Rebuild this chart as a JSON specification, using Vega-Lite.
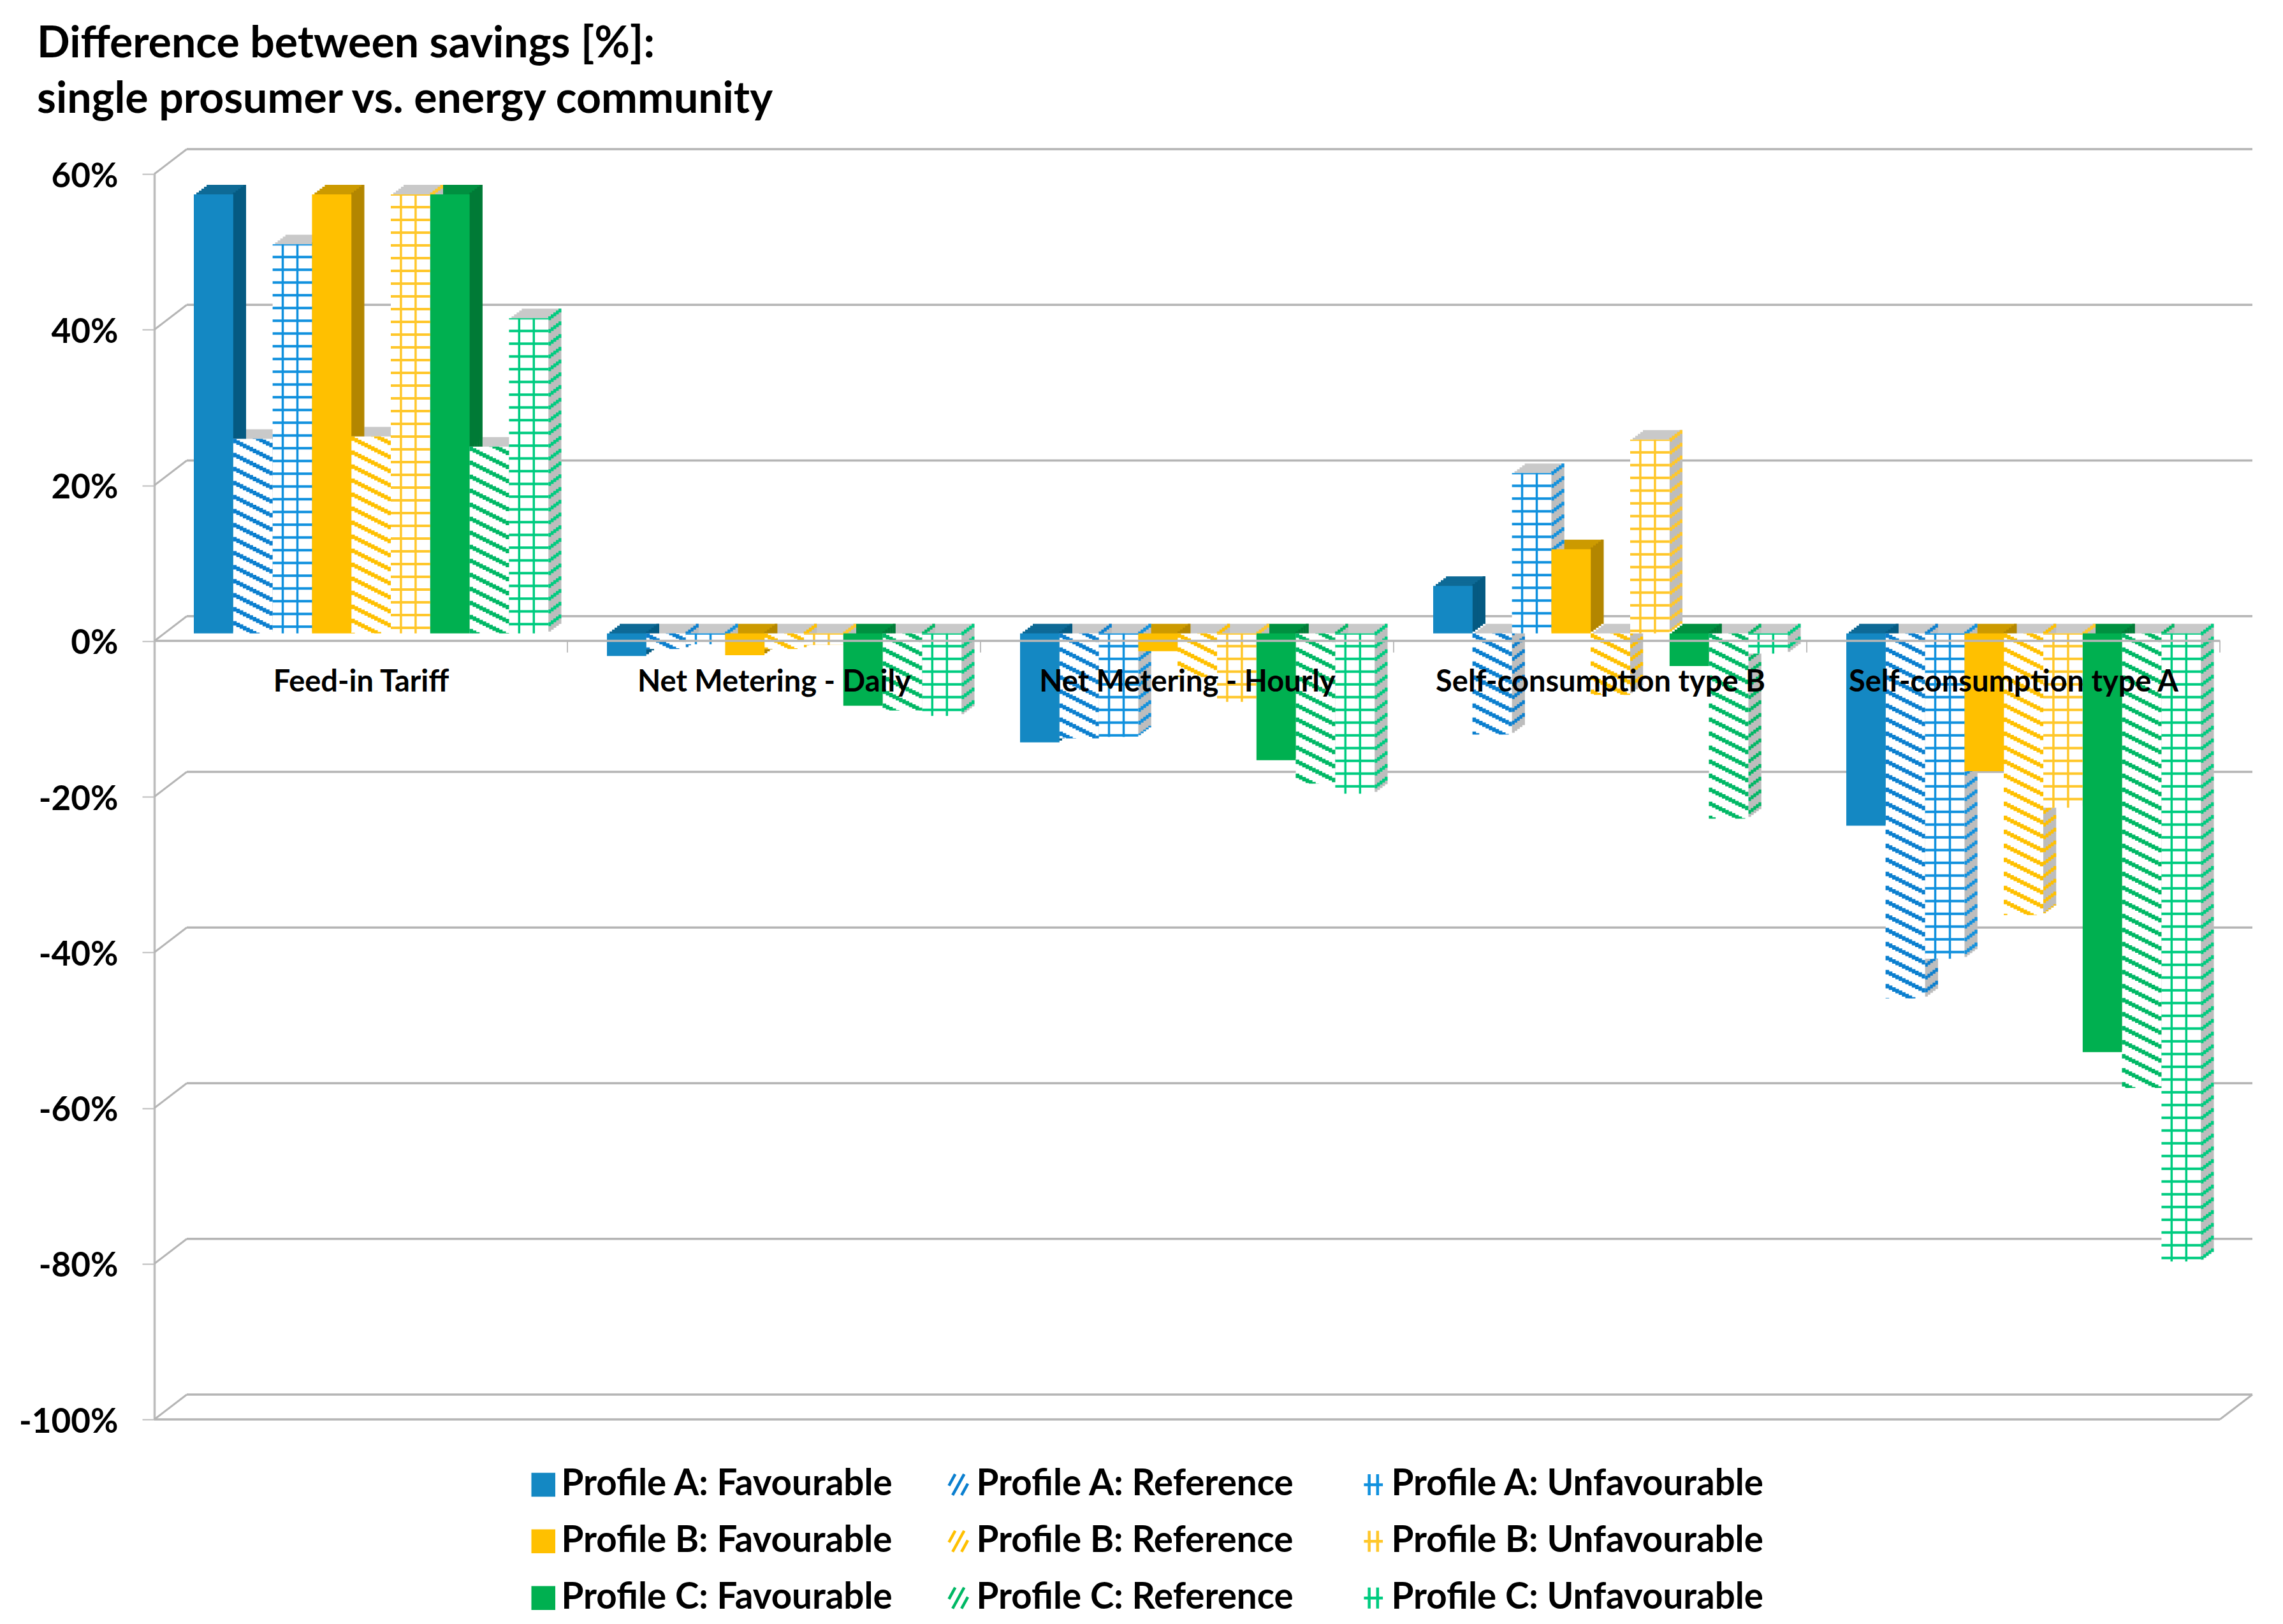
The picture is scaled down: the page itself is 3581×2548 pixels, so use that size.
{"$schema":"https://vega.github.io/schema/vega-lite/v6.json","autosize":"none","width":3240,"height":1954,"padding":{"left":242,"top":273,"right":99,"bottom":321},"background":"white","config":{"view":{"stroke":null},"font":"Lato","legend":{"orient":"none","legendX":582,"legendY":2028,"columns":3,"direction":"horizontal","gridAlign":"all","columnPadding":9,"rowPadding":32,"symbolSize":1089,"symbolStrokeWidth":4.5,"symbolOpacity":1,"labelFont":"Lato","labelFontWeight":"bold","labelFontSize":56.5,"labelColor":"#000000","labelOffset":0,"labelLimit":900,"padding":0}},"title":{"text":["Difference between savings [%]:","\u2005single prosumer vs. energy community"],"anchor":"start","frame":"group","font":"Lato","fontWeight":"bold","fontSize":68,"lineHeight":87,"color":"#000000","dx":-184,"offset":41},"layer":[{"data":{"values":[{"tick":60},{"tick":40},{"tick":20},{"tick":0},{"tick":-20},{"tick":-40},{"tick":-60},{"tick":-80},{"tick":-100}]},"encoding":{"y":{"field":"tick","type":"quantitative","title":null,"scale":{"domain":[-100,60],"nice":false},"axis":{"values":[60,40,20,0,-20,-40,-60,-80,-100],"labelExpr":"datum.value+'%'","grid":false,"labelFont":"Lato","labelFontWeight":"bold","labelFontSize":53,"labelColor":"#000000","labelPadding":38,"labelOffset":4,"tickSize":19,"tickWidth":2,"tickColor":"#bdbdbd","domainColor":"#bdbdbd","domainWidth":3.5}}},"layer":[{"mark":{"type":"rule","stroke":"#b5b5b5","strokeWidth":3.5,"xOffset":51,"x2Offset":51,"yOffset":-39},"encoding":{"x":{"value":0},"x2":{"value":"width"}}},{"mark":{"type":"rule","stroke":"#b5b5b5","strokeWidth":3,"x2Offset":51,"y2Offset":-39},"encoding":{"x":{"value":0},"x2":{"value":0},"y2":{"field":"tick"}}},{"transform":[{"filter":"datum.tick==-100"}],"layer":[{"mark":{"type":"rule","stroke":"#b5b5b5","strokeWidth":3.5},"encoding":{"x":{"value":0},"x2":{"value":"width"}}},{"mark":{"type":"rule","stroke":"#b5b5b5","strokeWidth":3,"x2Offset":51,"y2Offset":-39},"encoding":{"x":{"value":"width"},"x2":{"value":"width"},"y2":{"field":"tick"}}}]}]},{"data":{"values":[{"edge":0},{"edge":1},{"edge":2},{"edge":3},{"edge":4},{"edge":5}]},"mark":{"type":"rule","stroke":"#bdbdbd","strokeWidth":2,"y2Offset":18},"encoding":{"x":{"field":"edge","type":"quantitative","title":null},"y":{"datum":0},"y2":{"datum":0}}},{"data":{"values":[{"category":"Feed-in Tariff","series":"Profile A: Favourable","value":56.4},{"category":"Feed-in Tariff","series":"Profile A: Reference","value":25},{"category":"Feed-in Tariff","series":"Profile A: Unfavourable","value":50},{"category":"Feed-in Tariff","series":"Profile B: Favourable","value":56.4},{"category":"Feed-in Tariff","series":"Profile B: Reference","value":25.3},{"category":"Feed-in Tariff","series":"Profile B: Unfavourable","value":56.4},{"category":"Feed-in Tariff","series":"Profile C: Favourable","value":56.4},{"category":"Feed-in Tariff","series":"Profile C: Reference","value":24},{"category":"Feed-in Tariff","series":"Profile C: Unfavourable","value":40.5},{"category":"Net Metering - Daily","series":"Profile A: Favourable","value":-2.9},{"category":"Net Metering - Daily","series":"Profile A: Reference","value":-2},{"category":"Net Metering - Daily","series":"Profile A: Unfavourable","value":-1.4},{"category":"Net Metering - Daily","series":"Profile B: Favourable","value":-2.8},{"category":"Net Metering - Daily","series":"Profile B: Reference","value":-2},{"category":"Net Metering - Daily","series":"Profile B: Unfavourable","value":-1.5},{"category":"Net Metering - Daily","series":"Profile C: Favourable","value":-9.3},{"category":"Net Metering - Daily","series":"Profile C: Reference","value":-9.9},{"category":"Net Metering - Daily","series":"Profile C: Unfavourable","value":-10.6},{"category":"Net Metering - Hourly","series":"Profile A: Favourable","value":-14},{"category":"Net Metering - Hourly","series":"Profile A: Reference","value":-13.5},{"category":"Net Metering - Hourly","series":"Profile A: Unfavourable","value":-13.3},{"category":"Net Metering - Hourly","series":"Profile B: Favourable","value":-2.3},{"category":"Net Metering - Hourly","series":"Profile B: Reference","value":-5.6},{"category":"Net Metering - Hourly","series":"Profile B: Unfavourable","value":-8.8},{"category":"Net Metering - Hourly","series":"Profile C: Favourable","value":-16.3},{"category":"Net Metering - Hourly","series":"Profile C: Reference","value":-19.3},{"category":"Net Metering - Hourly","series":"Profile C: Unfavourable","value":-20.6},{"category":"Self-consumption type B","series":"Profile A: Favourable","value":6.1},{"category":"Self-consumption type B","series":"Profile A: Reference","value":-13},{"category":"Self-consumption type B","series":"Profile A: Unfavourable","value":20.6},{"category":"Self-consumption type B","series":"Profile B: Favourable","value":10.8},{"category":"Self-consumption type B","series":"Profile B: Reference","value":-7.9},{"category":"Self-consumption type B","series":"Profile B: Unfavourable","value":24.9},{"category":"Self-consumption type B","series":"Profile C: Favourable","value":-4.2},{"category":"Self-consumption type B","series":"Profile C: Reference","value":-23.8},{"category":"Self-consumption type B","series":"Profile C: Unfavourable","value":-2.6},{"category":"Self-consumption type A","series":"Profile A: Favourable","value":-24.7},{"category":"Self-consumption type A","series":"Profile A: Reference","value":-46.9},{"category":"Self-consumption type A","series":"Profile A: Unfavourable","value":-41.8},{"category":"Self-consumption type A","series":"Profile B: Favourable","value":-17.7},{"category":"Self-consumption type A","series":"Profile B: Reference","value":-36.2},{"category":"Self-consumption type A","series":"Profile B: Unfavourable","value":-22.4},{"category":"Self-consumption type A","series":"Profile C: Favourable","value":-53.8},{"category":"Self-consumption type A","series":"Profile C: Reference","value":-58.4},{"category":"Self-consumption type A","series":"Profile C: Unfavourable","value":-80.7}]},"transform":[{"calculate":"max(datum.value,0)","as":"top"},{"calculate":"min(datum.value,0)","as":"bot"},{"calculate":"split(datum.series,': ')[1]","as":"kind"},{"calculate":"indexof(['Feed-in Tariff','Net Metering - Daily','Net Metering - Hourly','Self-consumption type B','Self-consumption type A'],datum.category)","as":"c"},{"calculate":"indexof(['Profile A: Favourable','Profile A: Reference','Profile A: Unfavourable','Profile B: Favourable','Profile B: Reference','Profile B: Unfavourable','Profile C: Favourable','Profile C: Reference','Profile C: Unfavourable'],datum.series)","as":"s"},{"calculate":"datum.c+0.0957+(datum.s+0.5)*0.09537","as":"pos"},{"calculate":"datum.pos-0.04768","as":"x0"},{"calculate":"datum.pos+0.04768","as":"x1"},{"calculate":"datum.series=='Profile A: Favourable'?'#0e6a96':datum.series=='Profile B: Favourable'?'#cc9a00':datum.series=='Profile C: Favourable'?'#009040':'#c9c9c9'","as":"cTop"},{"calculate":"datum.series=='Profile A: Favourable'?'#055a82':datum.series=='Profile B: Favourable'?'#b38600':datum.series=='Profile C: Favourable'?'#007a36':'#bdbdbd'","as":"cSide"}],"encoding":{"x":{"field":"pos","type":"quantitative","title":null,"scale":{"domain":[0,5],"nice":false,"zero":false},"axis":{"values":[0.5,1.5,2.5,3.5,4.5],"labelExpr":"['Feed-in Tariff','Net Metering - Daily','Net Metering - Hourly','Self-consumption type B','Self-consumption type A'][floor(datum.value)]","grid":false,"offset":-1222,"labelAngle":0,"labelFont":"Lato","labelFontWeight":"bold","labelFontSize":47,"labelColor":"#000000","labelPadding":42,"labelLimit":900,"ticks":false,"domainColor":"#b5b5b5","domainWidth":3.5,"zindex":1}},"y":{"field":"top","type":"quantitative","title":null},"y2":{"field":"bot"}},"layer":[{"encoding":{"x":{"field":"x0","type":"quantitative","title":null},"x2":{"field":"x1"},"fill":{"field":"cTop","scale":null}},"layer":[{"mark":{"type":"bar","xOffset":20,"x2Offset":20,"yOffset":-27,"y2Offset":-27}},{"mark":{"type":"bar","xOffset":16,"x2Offset":16,"yOffset":-24,"y2Offset":-24}},{"mark":{"type":"bar","xOffset":12,"x2Offset":12,"yOffset":-21,"y2Offset":-21}},{"mark":{"type":"bar","xOffset":8,"x2Offset":8,"yOffset":-18,"y2Offset":-18}},{"mark":{"type":"bar","xOffset":4,"x2Offset":4,"yOffset":-15,"y2Offset":-15}}]},{"encoding":{"stroke":{"field":"cSide","scale":null}},"layer":[{"mark":{"type":"rule","strokeWidth":4.4,"xOffset":32.9,"yOffset":-15,"y2Offset":-15}},{"mark":{"type":"rule","strokeWidth":4.4,"xOffset":36.9,"yOffset":-18,"y2Offset":-18}},{"mark":{"type":"rule","strokeWidth":4.4,"xOffset":40.9,"yOffset":-21,"y2Offset":-21}},{"mark":{"type":"rule","strokeWidth":4.4,"xOffset":44.9,"yOffset":-24,"y2Offset":-24}},{"mark":{"type":"rule","strokeWidth":4.4,"xOffset":48.9,"yOffset":-27,"y2Offset":-27}}]},{"transform":[{"filter":"datum.kind!='Favourable'"}],"encoding":{"stroke":{"field":"series","type":"nominal","title":null,"scale":{"domain":["Profile A: Favourable","Profile A: Reference","Profile A: Unfavourable","Profile B: Favourable","Profile B: Reference","Profile B: Unfavourable","Profile C: Favourable","Profile C: Reference","Profile C: Unfavourable"]}}},"layer":[{"mark":{"type":"rule","strokeWidth":4.4,"xOffset":32.9,"yOffset":-15,"y2Offset":-15,"strokeDash":[6,14]}},{"mark":{"type":"rule","strokeWidth":4.4,"xOffset":36.9,"yOffset":-18,"y2Offset":-18,"strokeDash":[6,14]}},{"mark":{"type":"rule","strokeWidth":4.4,"xOffset":40.9,"yOffset":-21,"y2Offset":-21,"strokeDash":[6,14]}},{"mark":{"type":"rule","strokeWidth":4.4,"xOffset":44.9,"yOffset":-24,"y2Offset":-24,"strokeDash":[6,14]}},{"mark":{"type":"rule","strokeWidth":4.4,"xOffset":48.9,"yOffset":-27,"y2Offset":-27,"strokeDash":[6,14]}}]},{"mark":{"type":"bar","yOffset":-12,"y2Offset":-12},"encoding":{"x":{"field":"x0","type":"quantitative","title":null},"x2":{"field":"x1"},"fill":{"field":"series","type":"nominal","title":null,"scale":{"domain":["Profile A: Favourable","Profile A: Reference","Profile A: Unfavourable","Profile B: Favourable","Profile B: Reference","Profile B: Unfavourable","Profile C: Favourable","Profile C: Reference","Profile C: Unfavourable"]}}}},{"transform":[{"filter":"datum.kind=='Reference'"}],"encoding":{"stroke":{"field":"series","type":"nominal","title":null,"scale":{"domain":["Profile A: Favourable","Profile A: Reference","Profile A: Unfavourable","Profile B: Favourable","Profile B: Reference","Profile B: Unfavourable","Profile C: Favourable","Profile C: Reference","Profile C: Unfavourable"]}}},"layer":[{"mark":{"type":"rule","strokeWidth":5.6,"yOffset":-12,"y2Offset":-12,"xOffset":-28.3,"strokeDash":[7,15],"strokeDashOffset":22}},{"mark":{"type":"rule","strokeWidth":5.6,"yOffset":-12,"y2Offset":-12,"xOffset":-23.2,"strokeDash":[7,15],"strokeDashOffset":19.42}},{"mark":{"type":"rule","strokeWidth":5.6,"yOffset":-12,"y2Offset":-12,"xOffset":-18,"strokeDash":[7,15],"strokeDashOffset":16.84}},{"mark":{"type":"rule","strokeWidth":5.6,"yOffset":-12,"y2Offset":-12,"xOffset":-12.9,"strokeDash":[7,15],"strokeDashOffset":14.26}},{"mark":{"type":"rule","strokeWidth":5.6,"yOffset":-12,"y2Offset":-12,"xOffset":-7.7,"strokeDash":[7,15],"strokeDashOffset":11.68}},{"mark":{"type":"rule","strokeWidth":5.6,"yOffset":-12,"y2Offset":-12,"xOffset":-2.6,"strokeDash":[7,15],"strokeDashOffset":9.1}},{"mark":{"type":"rule","strokeWidth":5.6,"yOffset":-12,"y2Offset":-12,"xOffset":2.6,"strokeDash":[7,15],"strokeDashOffset":6.52}},{"mark":{"type":"rule","strokeWidth":5.6,"yOffset":-12,"y2Offset":-12,"xOffset":7.7,"strokeDash":[7,15],"strokeDashOffset":3.94}},{"mark":{"type":"rule","strokeWidth":5.6,"yOffset":-12,"y2Offset":-12,"xOffset":12.9,"strokeDash":[7,15],"strokeDashOffset":1.36}},{"mark":{"type":"rule","strokeWidth":5.6,"yOffset":-12,"y2Offset":-12,"xOffset":18,"strokeDash":[7,15],"strokeDashOffset":20.78}},{"mark":{"type":"rule","strokeWidth":5.6,"yOffset":-12,"y2Offset":-12,"xOffset":23.2,"strokeDash":[7,15],"strokeDashOffset":18.2}},{"mark":{"type":"rule","strokeWidth":5.3,"yOffset":-12,"y2Offset":-12,"xOffset":28.3,"strokeDash":[7,15],"strokeDashOffset":15.62}}]},{"transform":[{"filter":"datum.kind=='Unfavourable'"}],"encoding":{"stroke":{"field":"series","type":"nominal","title":null,"scale":{"domain":["Profile A: Favourable","Profile A: Reference","Profile A: Unfavourable","Profile B: Favourable","Profile B: Reference","Profile B: Unfavourable","Profile C: Favourable","Profile C: Reference","Profile C: Unfavourable"]}}},"layer":[{"mark":{"type":"rule","strokeWidth":61.8,"yOffset":-12,"y2Offset":-12,"strokeDash":[4,16],"strokeDashOffset":2}},{"mark":{"type":"rule","strokeWidth":3.5,"yOffset":-12,"y2Offset":-12,"xOffset":-15}},{"mark":{"type":"rule","strokeWidth":3.5,"yOffset":-12,"y2Offset":-12,"xOffset":8}}]},{"mark":{"type":"point","opacity":0},"encoding":{"fill":{"field":"series","type":"nominal","title":null,"scale":{"domain":["Profile A: Favourable","Profile A: Reference","Profile A: Unfavourable","Profile B: Favourable","Profile B: Reference","Profile B: Unfavourable","Profile C: Favourable","Profile C: Reference","Profile C: Unfavourable"],"range":["#1488c3","#ffffff","#ffffff","#ffc000","#ffffff","#ffffff","#00b050","#ffffff","#ffffff"]}},"stroke":{"field":"series","type":"nominal","title":null,"scale":{"domain":["Profile A: Favourable","Profile A: Reference","Profile A: Unfavourable","Profile B: Favourable","Profile B: Reference","Profile B: Unfavourable","Profile C: Favourable","Profile C: Reference","Profile C: Unfavourable"],"range":["#1488c3","#0b7fcf","#1191de","#ffc000","#ffc000","#ffc72b","#00b050","#00b865","#00cc80"]}},"shape":{"field":"series","type":"nominal","title":null,"scale":{"domain":["Profile A: Favourable","Profile A: Reference","Profile A: Unfavourable","Profile B: Favourable","Profile B: Reference","Profile B: Unfavourable","Profile C: Favourable","Profile C: Reference","Profile C: Unfavourable"],"range":["square","M-.9 .1L-.3 -1M-.55 1L.55 -1M.3 1L.9 -.1","M-.4 -1V1M.4 -1V1M-.9 0H.9","square","M-.9 .1L-.3 -1M-.55 1L.55 -1M.3 1L.9 -.1","M-.4 -1V1M.4 -1V1M-.9 0H.9","square","M-.9 .1L-.3 -1M-.55 1L.55 -1M.3 1L.9 -.1","M-.4 -1V1M.4 -1V1M-.9 0H.9"]}}}}]}]}
